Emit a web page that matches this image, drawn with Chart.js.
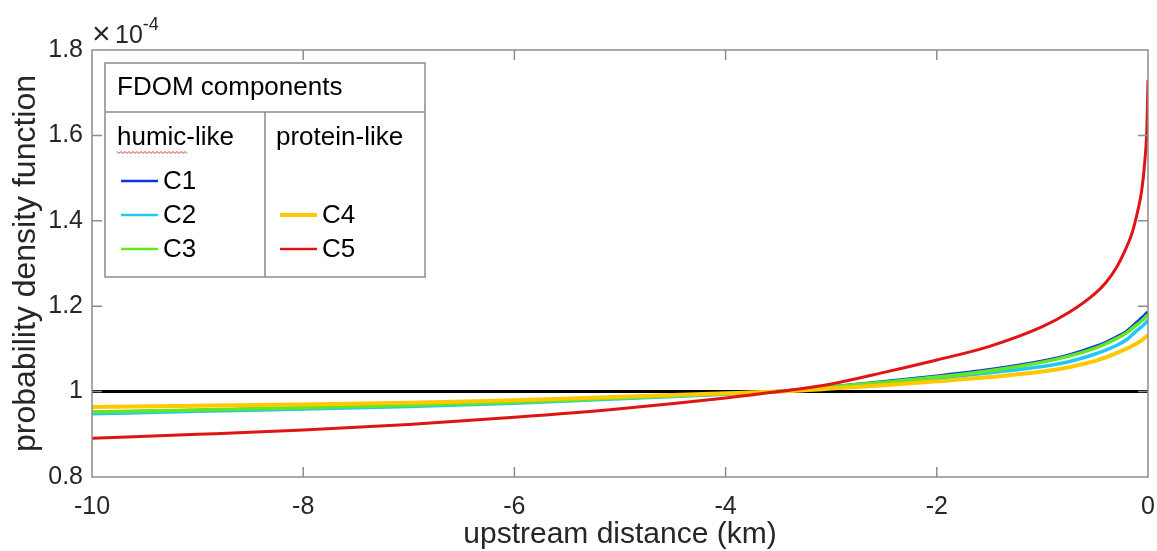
<!DOCTYPE html>
<html lang="en">
<head>
    <meta charset="UTF-8">
    <title>FDOM components - probability density</title>
    <script src="https://cdn.jsdelivr.net/npm/chart.js"></script>
    <style>
        body {
            margin: 0;
            background: #ffffff;
        }
        canvas {
            display: block;
        }
    </style>
</head>
<body>
    <canvas id="pdfChart" width="1157" height="551"></canvas>

    <script>
        // upstream distance (km) and pdf values (units of 1e-4)
        const distance = [-10, -9, -8, -7, -6, -5, -4, -3.5, -3, -2.5, -2, -1.5, -1, -0.75, -0.5, -0.4, -0.3, -0.2, -0.15, -0.1, -0.06, -0.03, -0.01, 0];
        const c1 = [0.951, 0.956, 0.961, 0.967, 0.975, 0.985, 0.995, 1.000, 1.011, 1.023, 1.036, 1.051, 1.071, 1.085, 1.105, 1.115, 1.127, 1.141, 1.152, 1.163, 1.172, 1.179, 1.184, 1.186];
        const c2 = [0.948, 0.954, 0.959, 0.965, 0.973, 0.983, 0.994, 1.000, 1.009, 1.020, 1.031, 1.044, 1.059, 1.070, 1.088, 1.097, 1.108, 1.122, 1.133, 1.144, 1.152, 1.159, 1.164, 1.168];
        const c3 = [0.952, 0.957, 0.962, 0.968, 0.975, 0.985, 0.995, 1.000, 1.011, 1.022, 1.034, 1.049, 1.069, 1.083, 1.102, 1.112, 1.124, 1.138, 1.148, 1.158, 1.166, 1.173, 1.178, 1.181];
        const c4 = [0.964, 0.967, 0.970, 0.974, 0.980, 0.988, 0.996, 1.000, 1.007, 1.015, 1.024, 1.034, 1.047, 1.057, 1.072, 1.080, 1.090, 1.101, 1.107, 1.114, 1.120, 1.126, 1.130, 1.133];
        const c5 = [0.891, 0.900, 0.910, 0.923, 0.940, 0.960, 0.985, 1.000, 1.018, 1.045, 1.074, 1.106, 1.152, 1.185, 1.230, 1.255, 1.290, 1.340, 1.372, 1.420, 1.470, 1.540, 1.620, 1.730];

        // uniform reference line
        const refX = [-10, 0];
        const refY = [1, 1];

        const xTicks = [-10, -8, -6, -4, -2, 0];
        const yTicks = [0.8, 1, 1.2, 1.4, 1.6, 1.8];

        const FONT = "'Liberation Sans', Arial, sans-serif";
        const TEXT = '#262626';
        const BOX = '#8c8c8c';

        const colors = {
            C1: '#0b34e4',
            C2: '#20c8f6',
            C3: '#62e81e',
            C4: '#ffc800',
            C5: '#e01414'
        };

        function pts(xs, ys) {
            return xs.map((x, i) => ({ x: x, y: ys[i] }));
        }

        function series(label, ys, width, order) {
            return {
                label: label,
                data: pts(distance, ys),
                borderColor: colors[label],
                borderWidth: width,
                pointRadius: 0,
                cubicInterpolationMode: 'monotone',
                order: order
            };
        }

        // axes box with inward ticks on all four sides (MATLAB style)
        const frame = {
            id: 'frame',
            afterDatasetsDraw(chart) {
                const { ctx, chartArea: a, scales: { x, y } } = chart;
                ctx.save();
                ctx.strokeStyle = BOX;
                ctx.lineWidth = 1.5;
                ctx.strokeRect(a.left, a.top, a.width, a.height);
                ctx.beginPath();
                xTicks.slice(1, -1).forEach(v => {
                    const px = x.getPixelForValue(v);
                    ctx.moveTo(px, a.bottom); ctx.lineTo(px, a.bottom - 10);
                    ctx.moveTo(px, a.top); ctx.lineTo(px, a.top + 10);
                });
                yTicks.slice(1, -1).forEach(v => {
                    const py = y.getPixelForValue(v);
                    ctx.moveTo(a.left, py); ctx.lineTo(a.left + 10, py);
                    ctx.moveTo(a.right, py); ctx.lineTo(a.right - 10, py);
                });
                ctx.stroke();

                // exponent label
                ctx.fillStyle = TEXT;
                ctx.textBaseline = 'alphabetic';
                ctx.textAlign = 'left';
                ctx.font = '32px ' + FONT;
                ctx.fillText('\u00d7', a.left + 0, a.top - 6);
                ctx.font = '25px ' + FONT;
                ctx.fillText('10', a.left + 23, a.top - 7);
                const w = ctx.measureText('10').width;
                ctx.font = '18px ' + FONT;
                ctx.fillText('-4', a.left + 23 + w, a.top - 20);
                ctx.restore();
            }
        };

        // grouped legend box
        const groupLegend = {
            id: 'groupLegend',
            afterDraw(chart) {
                const { ctx, chartArea: a } = chart;
                const L = a.left + 13, T = a.top + 13, W = 320, H = 214;
                ctx.save();
                ctx.fillStyle = '#ffffff';
                ctx.fillRect(L, T, W, H);
                ctx.strokeStyle = BOX;
                ctx.lineWidth = 1.5;
                ctx.strokeRect(L, T, W, H);
                ctx.beginPath();
                ctx.moveTo(L, T + 49); ctx.lineTo(L + W, T + 49);
                ctx.moveTo(L + 160, T + 49); ctx.lineTo(L + 160, T + H);
                ctx.stroke();

                ctx.fillStyle = '#000000';
                ctx.textBaseline = 'middle';
                ctx.textAlign = 'left';
                ctx.font = '26px ' + FONT;
                ctx.fillText('FDOM components', L + 12, T + 25);
                ctx.fillText('humic-like', L + 12, T + 75);
                ctx.fillText('protein-like', L + 171, T + 75);

                // spell-check squiggle under "humic"
                ctx.strokeStyle = '#e03030';
                ctx.lineWidth = 1;
                ctx.beginPath();
                for (let i = 0; i <= 35; i++) {
                    const px = L + 12 + i * 2;
                    const py = T + 89 + (i % 2 ? 1.5 : -0.5);
                    if (i === 0) ctx.moveTo(px, py); else ctx.lineTo(px, py);
                }
                ctx.stroke();

                const entries = [
                    ['C1', L + 16, T + 118, 2.5],
                    ['C2', L + 16, T + 152, 2.5],
                    ['C3', L + 16, T + 186, 2.5],
                    ['C4', L + 175, T + 152, 4],
                    ['C5', L + 175, T + 186, 2.5]
                ];
                entries.forEach(([name, lx, ly, lw]) => {
                    ctx.strokeStyle = colors[name];
                    ctx.lineWidth = lw;
                    ctx.beginPath();
                    ctx.moveTo(lx, ly); ctx.lineTo(lx + 37, ly);
                    ctx.stroke();
                    ctx.fillStyle = '#000000';
                    ctx.fillText(name, lx + 42, ly + 1);
                });
                ctx.restore();
            }
        };

        const ctx = document.getElementById('pdfChart').getContext('2d');
        const pdfChart = new Chart(ctx, {
            type: 'line',
            data: {
                datasets: [
                    series('C5', c5, 3, 0),
                    series('C4', c4, 4, 1),
                    series('C3', c3, 3.5, 2),
                    series('C2', c2, 3.5, 3),
                    series('C1', c1, 3.5, 4),
                    {
                        label: 'uniform',
                        data: pts(refX, refY),
                        borderColor: '#000000',
                        borderWidth: 3,
                        pointRadius: 0,
                        order: 5
                    }
                ]
            },
            options: {
                responsive: false,
                animation: false,
                layout: {
                    padding: { left: 0, right: 9, top: 50, bottom: 0 }
                },
                scales: {
                    x: {
                        type: 'linear',
                        min: -10,
                        max: 0,
                        afterFit: s => { s.height = 74; s.paddingLeft = 0; s.paddingRight = 0; },
                        afterBuildTicks: s => { s.ticks = xTicks.map(v => ({ value: v })); },
                        grid: { display: false, drawTicks: false, tickLength: 0 },
                        border: { display: false },
                        ticks: {
                            color: TEXT,
                            font: { family: FONT, size: 25 },
                            padding: 15,
                            maxRotation: 0,
                            callback: v => String(v)
                        },
                        title: {
                            display: true,
                            text: 'upstream distance (km)',
                            color: TEXT,
                            font: { family: FONT, size: 30, lineHeight: 1.1 },
                            padding: { top: 0, bottom: 0 }
                        }
                    },
                    y: {
                        min: 0.8,
                        max: 1.8,
                        afterFit: s => { s.width = 92; s.paddingTop = 0; s.paddingBottom = 0; },
                        afterBuildTicks: s => { s.ticks = yTicks.map(v => ({ value: v })); },
                        grid: { display: false, drawTicks: false, tickLength: 0 },
                        border: { display: false },
                        ticks: {
                            color: TEXT,
                            font: { family: FONT, size: 25 },
                            padding: 9,
                            callback: v => String(+v.toFixed(1))
                        },
                        title: {
                            display: true,
                            text: 'probability density function',
                            color: TEXT,
                            font: { family: FONT, size: 32, lineHeight: 1.1 },
                            padding: { top: 9, bottom: 0 }
                        }
                    }
                },
                plugins: {
                    legend: { display: false },
                    tooltip: { enabled: false }
                }
            },
            plugins: [frame, groupLegend]
        });
    </script>
</body>
</html>
